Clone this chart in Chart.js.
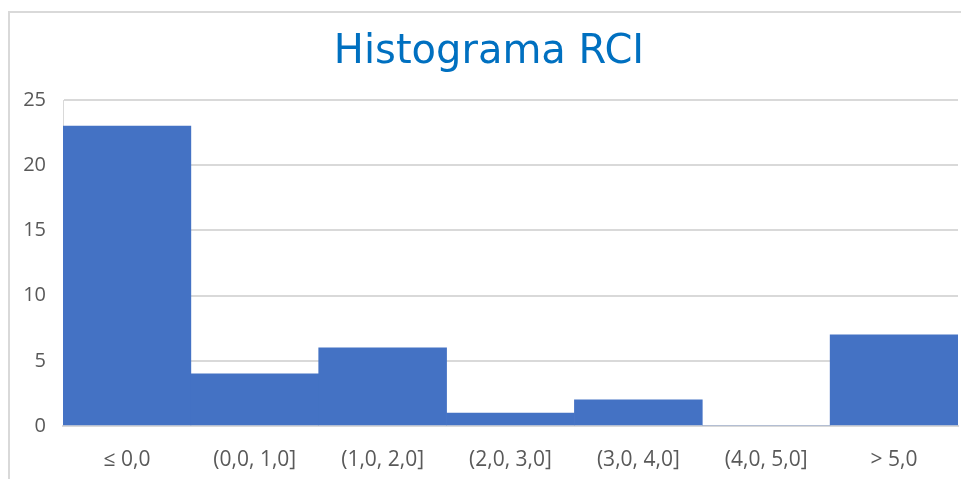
<!DOCTYPE html>
<html>
<head>
<meta charset="utf-8">
<script src="https://cdn.jsdelivr.net/npm/chart.js@4"></script>
<style>
  html, body { margin: 0; padding: 0; background: #fff; }
  #wrap { position: relative; width: 961px; height: 479px; overflow: hidden; }
  #frame { position: absolute; left: 8px; top: 11px; width: 1000px; height: 500px;
           border-left: 2px solid #d9d9d9; border-top: 2px solid #d9d9d9; box-sizing: border-box; }
  canvas { position: absolute; left: 0; top: 0; }
</style>
</head>
<body>
<div id="wrap">
  <div id="frame"></div>
  <canvas id="c" width="961" height="479"></canvas>
</div>
<script>
const titleText = "Histograma RCI";
const categories = ["≤ 0,0", "(0,0, 1,0]", "(1,0, 2,0]", "(2,0, 3,0]", "(3,0, 4,0]", "(4,0, 5,0]", "> 5,0"];
const counts = [23, 4, 6, 1, 2, 0, 7];
const yTicks = [0, 5, 10, 15, 20, 25];

const FONT = "'Open Sans', 'Noto Sans', sans-serif";
const TITLE_FONT = "'DejaVu Sans', 'Open Sans', sans-serif";

new Chart(document.getElementById('c'), {
  type: 'bar',
  data: {
    labels: categories,
    datasets: [{
      data: counts,
      backgroundColor: '#4472C4',
      borderWidth: 0,
      categoryPercentage: 1.0,
      barPercentage: 1.0
    }]
  },
  options: {
    responsive: false,
    animation: false,
    layout: { padding: { left: 20, right: 3, top: 0, bottom: 0 } },
    plugins: {
      legend: { display: false },
      tooltip: { enabled: false },
      title: {
        display: true,
        text: titleText,
        color: '#0070C0',
        font: { family: TITLE_FONT, size: 40, weight: 'normal' },
        padding: { top: 29, bottom: 23 }
      }
    },
    scales: {
      x: {
        grid: { display: false, drawTicks: false },
        border: { display: true, color: '#d9d9d9', width: 2 },
        ticks: { color: '#595959', font: { family: FONT, size: 21 }, padding: 21, maxRotation: 0, autoSkip: false },
        afterFit: (s) => { s.height = 53; }
      },
      y: {
        min: yTicks[0],
        max: yTicks[yTicks.length - 1],
        afterBuildTicks: (s) => { s.ticks = yTicks.map(v => ({ value: v })); },
        grid: { color: '#d9d9d9', lineWidth: 2, drawTicks: false },
        border: { display: true, color: '#d9d9d9', width: 1 },
        ticks: { color: '#595959', font: { family: FONT, size: 20 }, padding: 17 },
        afterFit: (s) => { s.width = 43; }
      }
    }
  }
});
</script>
</body>
</html>
